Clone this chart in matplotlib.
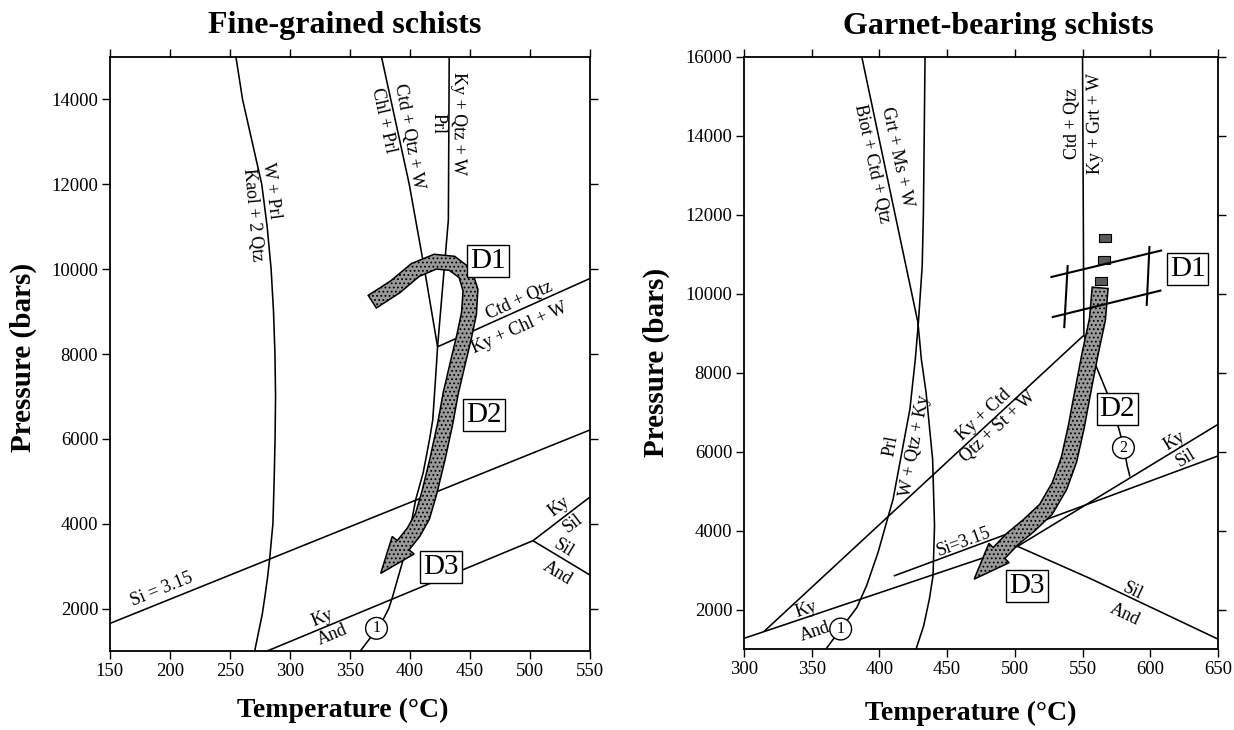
import numpy as np
import matplotlib
matplotlib.use("Agg")
import matplotlib.pyplot as plt
from matplotlib.patches import Polygon

plt.rcParams['font.family'] = ['Liberation Serif', 'DejaVu Serif']
plt.rcParams['hatch.linewidth'] = 0.8

# ---------------- Fine-grained schists (left) ----------------
fg_kaol_T = [255, 260.5, 268.5, 276.5, 281, 284.3, 286.3, 287.5, 288, 287.6, 286.8, 285.8, 283, 281.4, 279.2, 277, 270.6]
fg_kaol_P = [15000, 14000, 13000, 12000, 11000, 10000, 9000, 8000, 7000, 6000, 5000, 4000, 3150, 2750, 2300, 1880, 1000]
fg_chl_T = [376.3, 399.4, 412.1, 423]
fg_chl_P = [15000, 12000, 10000, 8170]
fg_prl_T = [432.7, 432, 428.5, 423]
fg_prl_P = [15000, 11160, 10000, 8170]
fg_ctd_T = [423, 550]
fg_ctd_P = [8170, 9780]
fg_r1_T = [423, 422.4, 419, 416.4, 411, 404.8, 401, 394.3, 385.5, 382.3, 375.8, 358.6]
fg_r1_P = [8170, 7890, 6450, 6000, 5200, 4570, 4000, 3150, 2280, 2000, 1640, 1000]
fg_si_T = [150, 550]
fg_si_P = [1650, 6210]
fg_kyand_T = [281, 502.5]
fg_kyand_P = [1000, 3600]
fg_kysil_T = [502.5, 550]
fg_kysil_P = [3600, 4630]
fg_siland_T = [502.5, 550]
fg_siland_P = [3600, 2790]
fg_path_T = [368.6, 387.9, 404.4, 421, 435, 446.1, 450.4, 449.2, 445.1, 439.8, 434, 429.5, 422.9, 416.1, 410.4, 403, 375.6]
fg_path_P = [9233, 9587, 9980, 10176, 10138, 9902, 9509, 8959, 8408, 7781, 7080, 6380, 5518, 4727, 4174, 3800, 2830]
fg_stages = ['D1', 'D2', 'D3']
fg_stage_T = [465, 461.6, 425.9]
fg_stage_P = [10200, 6563, 2987]

# ---------------- Garnet-bearing schists (right) ----------------
gb_grt_T = [387, 428.5, 431, 434.5, 439.3, 440.7, 439.6, 436.9, 432.7, 427.1]
gb_grt_P = [16000, 9260, 8335, 7490, 5805, 4118, 2853, 2264, 1589, 1000]
gb_prl_T = [433.7, 432.5, 431.6, 428.8, 426.5, 422.5, 415.6, 410.1, 405.9, 399, 390.5, 383.4, 371.4, 360.6]
gb_prl_P = [16000, 12050, 10700, 9280, 8335, 7070, 5805, 4793, 4287, 3445, 2600, 2053, 1505, 1000]
gb_ctd_T = [550, 551]
gb_ctd_P = [16000, 8950]
gb_kyctd_T = [551, 315]
gb_kyctd_P = [8950, 1450]
gb_r2_T = [551, 559, 568, 577, 580.5, 583, 585]
gb_r2_P = [8950, 8250, 7500, 6560, 6100, 5640, 5370]
gb_kyand_T = [300, 502]
gb_kyand_P = [1269, 3600]
gb_kysil_T = [502, 650]
gb_kysil_P = [3600, 6690]
gb_siland_T = [502, 556, 650]
gb_siland_P = [3600, 2780, 1250]
gb_si_T = [410.6, 650]
gb_si_P = [2850, 5890]
gb_path_T = [563, 561, 555.5, 549, 545.5, 540, 533, 523, 510, 498, 470]
gb_path_P = [10150, 9350, 8470, 7300, 6650, 5800, 5130, 4540, 4120, 3780, 2770]
gb_dash_T = [566.9, 566, 563.5]
gb_dash_P = [11414, 10865, 10316]
gb_d1_upper_T = [527, 608]
gb_d1_upper_P = [10425, 11095]
gb_d1_lower_T = [528, 607.5]
gb_d1_lower_P = [9410, 10080]
gb_d1_left_T = [539, 536.5]
gb_d1_left_P = [10700, 9155]
gb_d1_right_T = [599.4, 597.4]
gb_d1_right_P = [11185, 9720]
gb_stages = ['D1', 'D2', 'D3']
gb_stage_T = [627.6, 575.7, 508.9]
gb_stage_P = [10637, 7070, 2600]

fig = plt.figure(figsize=(12.34, 7.30), dpi=100)
axL = fig.add_axes([0.0891, 0.1082, 0.389, 0.8137])
axR = fig.add_axes([0.6029, 0.111, 0.3841, 0.811])


def setup(ax, xlim, ylim, yticks):
    ax.set_xlim(xlim)
    ax.set_ylim(ylim)
    ax.set_xticks(np.arange(xlim[0], xlim[1] + 1, 50))
    ax.set_yticks(yticks)
    ax.tick_params(direction='out', length=6, width=1, top=True, right=True,
                   labelsize=13.5, pad=2.5)
    for s in ax.spines.values():
        s.set_linewidth(1.3)


setup(axL, (150, 550), (1000, 15000), np.arange(2000, 14001, 2000))
setup(axR, (300, 650), (1000, 16000), np.arange(2000, 16001, 2000))


def line(ax, T, P, lw=1.15):
    ax.plot(T, P, color='black', lw=lw, zorder=2, solid_capstyle='butt')


def band(ax, T, P, width, head_len=36, head_w=28):
    # thick P-T path band with an arrow head, built in pixel space
    pts = ax.transData.transform(np.column_stack([T, P]))
    tip, prev = pts[-1], pts[-2]
    d = (tip - prev) / np.hypot(*(tip - prev))
    base = tip - d * head_len
    shaft = np.vstack([pts[:-1], base])
    seg = np.diff(shaft, axis=0)
    seg /= np.hypot(seg[:, 0], seg[:, 1])[:, None]
    tang = np.zeros_like(shaft)
    tang[0], tang[-1] = seg[0], seg[-1]
    tang[1:-1] = seg[:-1] + seg[1:]
    tang /= np.hypot(tang[:, 0], tang[:, 1])[:, None]
    nrm = np.column_stack([-tang[:, 1], tang[:, 0]])
    left = shaft + nrm * width / 2
    right = shaft - nrm * width / 2
    wl = base + nrm[-1] * head_w / 2
    wr = base - nrm[-1] * head_w / 2
    poly = np.vstack([left, wl, tip, wr, right[::-1]])
    data = ax.transData.inverted().transform(poly)
    ax.add_patch(Polygon(data, closed=True, fc='#9a9a9a', ec='black', lw=1.1,
                         hatch='....', zorder=3))


def along(ax, s, T, P, lT, lP, read='right', size=13):
    xy = ax.transData.transform(np.column_stack([lT, lP]))
    p = ax.transData.transform((T, P))
    i = int(np.argmin(np.hypot(*(xy - p).T)))
    i = min(i, len(xy) - 2)
    v = xy[i + 1] - xy[i]
    ang = np.degrees(np.arctan2(v[1], v[0]))
    if read == 'right' and abs(ang) > 90:
        ang = ang - 180 if ang > 0 else ang + 180
    if read == 'down' and ang > 0:
        ang -= 180
    if read == 'up' and ang < 0:
        ang += 180
    ax.text(T, P, s, rotation=ang, rotation_mode='anchor', ha='center',
            va='center', fontsize=size, zorder=4)


def stage(ax, s, T, P):
    ax.text(T, P, s, fontsize=21, ha='center', va='center', zorder=6,
            bbox=dict(boxstyle='square,pad=0.1', fc='white', ec='black', lw=1.0))


def circ(ax, s, T, P):
    ax.text(T, P, s, fontsize=11.5, ha='center', va='center', zorder=6,
            bbox=dict(boxstyle='circle,pad=0.18', fc='white', ec='black', lw=1.0))


# ---- left panel
for T, P in [(fg_kaol_T, fg_kaol_P), (fg_chl_T, fg_chl_P), (fg_prl_T, fg_prl_P),
             (fg_ctd_T, fg_ctd_P), (fg_r1_T, fg_r1_P), (fg_si_T, fg_si_P),
             (fg_kyand_T, fg_kyand_P), (fg_kysil_T, fg_kysil_P), (fg_siland_T, fg_siland_P)]:
    line(axL, T, P)
band(axL, fg_path_T, fg_path_P, 15)
for s, T, P in zip(fg_stages, fg_stage_T, fg_stage_P):
    stage(axL, s, T, P)
circ(axL, '1', 372.1, 1535)

along(axL, 'W + Prl', 284.5, 11850, fg_kaol_T, fg_kaol_P, 'down')
along(axL, 'Kaol + 2 Qtz', 269, 11276, fg_kaol_T, fg_kaol_P, 'down')
along(axL, 'Chl + Prl', 378.3, 13515, fg_chl_T, fg_chl_P, 'down')
along(axL, 'Ctd + Qtz + W', 399.2, 13122, fg_chl_T, fg_chl_P, 'down')
along(axL, 'Prl', 423.7, 13437, fg_prl_T, fg_prl_P, 'down')
along(axL, 'Ky + Qtz + W', 440.6, 13437, fg_prl_T, fg_prl_P, 'down')
along(axL, 'Ctd + Qtz', 491.4, 9249, fg_ctd_T, fg_ctd_P)
along(axL, 'Ky + Chl + W', 491.3, 8606, fg_ctd_T, fg_ctd_P)
along(axL, 'Si = 3.15', 193.2, 2438, fg_si_T, fg_si_P)
along(axL, 'Ky', 327.4, 1771, fg_kyand_T, fg_kyand_P)
along(axL, 'And', 335.3, 1377, fg_kyand_T, fg_kyand_P)
along(axL, 'Ky', 524.4, 4401, fg_kysil_T, fg_kysil_P)
along(axL, 'Sil', 535.7, 4010, fg_kysil_T, fg_kysil_P)
along(axL, 'Sil', 527.8, 3421, fg_siland_T, fg_siland_P)
along(axL, 'And', 523, 2832, fg_siland_T, fg_siland_P)

# ---- right panel
for T, P in [(gb_grt_T, gb_grt_P), (gb_prl_T, gb_prl_P), (gb_ctd_T, gb_ctd_P),
             (gb_kyctd_T, gb_kyctd_P), (gb_r2_T, gb_r2_P), (gb_kyand_T, gb_kyand_P),
             (gb_kysil_T, gb_kysil_P), (gb_siland_T, gb_siland_P), (gb_si_T, gb_si_P)]:
    line(axR, T, P)
for T, P in [(gb_d1_upper_T, gb_d1_upper_P), (gb_d1_lower_T, gb_d1_lower_P),
             (gb_d1_left_T, gb_d1_left_P), (gb_d1_right_T, gb_d1_right_P)]:
    axR.plot(T, P, color='black', lw=1.5, zorder=4)
band(axR, gb_path_T, gb_path_P, 16)
rect = [(-1, -0.6), (1, -0.6), (1, 0.6), (-1, 0.6), (-1, -0.6)]
axR.plot(gb_dash_T, gb_dash_P, ls='none', marker=rect, ms=9, mfc='#5a5a5a',
         mec='black', mew=0.8, zorder=3)
for s, T, P in zip(gb_stages, gb_stage_T, gb_stage_P):
    stage(axR, s, T, P)
circ(axR, '1', 371.4, 1505)
circ(axR, '2', 580.2, 6100)

along(axR, 'Grt + Ms + W', 413.1, 13458, gb_grt_T, gb_grt_P, 'down')
along(axR, 'Biot + Ctd + Qtz', 394.4, 13288, gb_grt_T, gb_grt_P, 'down')
along(axR, 'Ctd + Qtz', 542.2, 14323, gb_ctd_T, gb_ctd_P, 'up')
along(axR, 'Ky + Grt + W', 559.2, 14305, gb_ctd_T, gb_ctd_P, 'up')
along(axR, 'Prl', 408.9, 6136, gb_prl_T, gb_prl_P, 'up')
along(axR, 'W + Qtz + Ky', 426.3, 6136, gb_prl_T, gb_prl_P, 'up')
along(axR, 'Ky + Ctd', 477.4, 6920, gb_kyctd_T, gb_kyctd_P)
along(axR, 'Qtz + St + W', 487.6, 6625, gb_kyctd_T, gb_kyctd_P)
along(axR, 'Si=3.15', 462, 3700, gb_si_T, gb_si_P)
along(axR, 'Ky', 346.3, 2000, gb_kyand_T, gb_kyand_P)
along(axR, 'And', 352.2, 1434, gb_kyand_T, gb_kyand_P)
along(axR, 'Ky', 617.7, 6262, gb_kysil_T, gb_kysil_P)
along(axR, 'Sil', 626.4, 5840, gb_kysil_T, gb_kysil_P)
along(axR, 'Sil', 587.3, 2464, gb_siland_T, gb_siland_P)
along(axR, 'And', 581.5, 1873, gb_siland_T, gb_siland_P)

# titles and axis labels
fig.text(345 / 1234, 1 - 33 / 730, 'Fine-grained schists', ha='center', va='baseline',
         fontsize=23, fontweight='bold')
fig.text(998 / 1234, 1 - 34 / 730, 'Garnet-bearing schists', ha='center', va='baseline',
         fontsize=23, fontweight='bold')
fig.text(343 / 1234, 1 - 717 / 730, 'Temperature (\u00b0C)', ha='center', va='baseline',
         fontsize=20, fontweight='bold')
fig.text(971 / 1234, 1 - 720 / 730, 'Temperature (\u00b0C)', ha='center', va='baseline',
         fontsize=20, fontweight='bold')
fig.text(23 / 1234, 1 - 357 / 730, 'Pressure (bars)', ha='center', va='center',
         rotation=90, fontsize=21, fontweight='bold')
fig.text(656 / 1234, 1 - 362 / 730, 'Pressure (bars)', ha='center', va='center',
         rotation=90, fontsize=21, fontweight='bold')

fig.savefig('out.png', dpi=100)
